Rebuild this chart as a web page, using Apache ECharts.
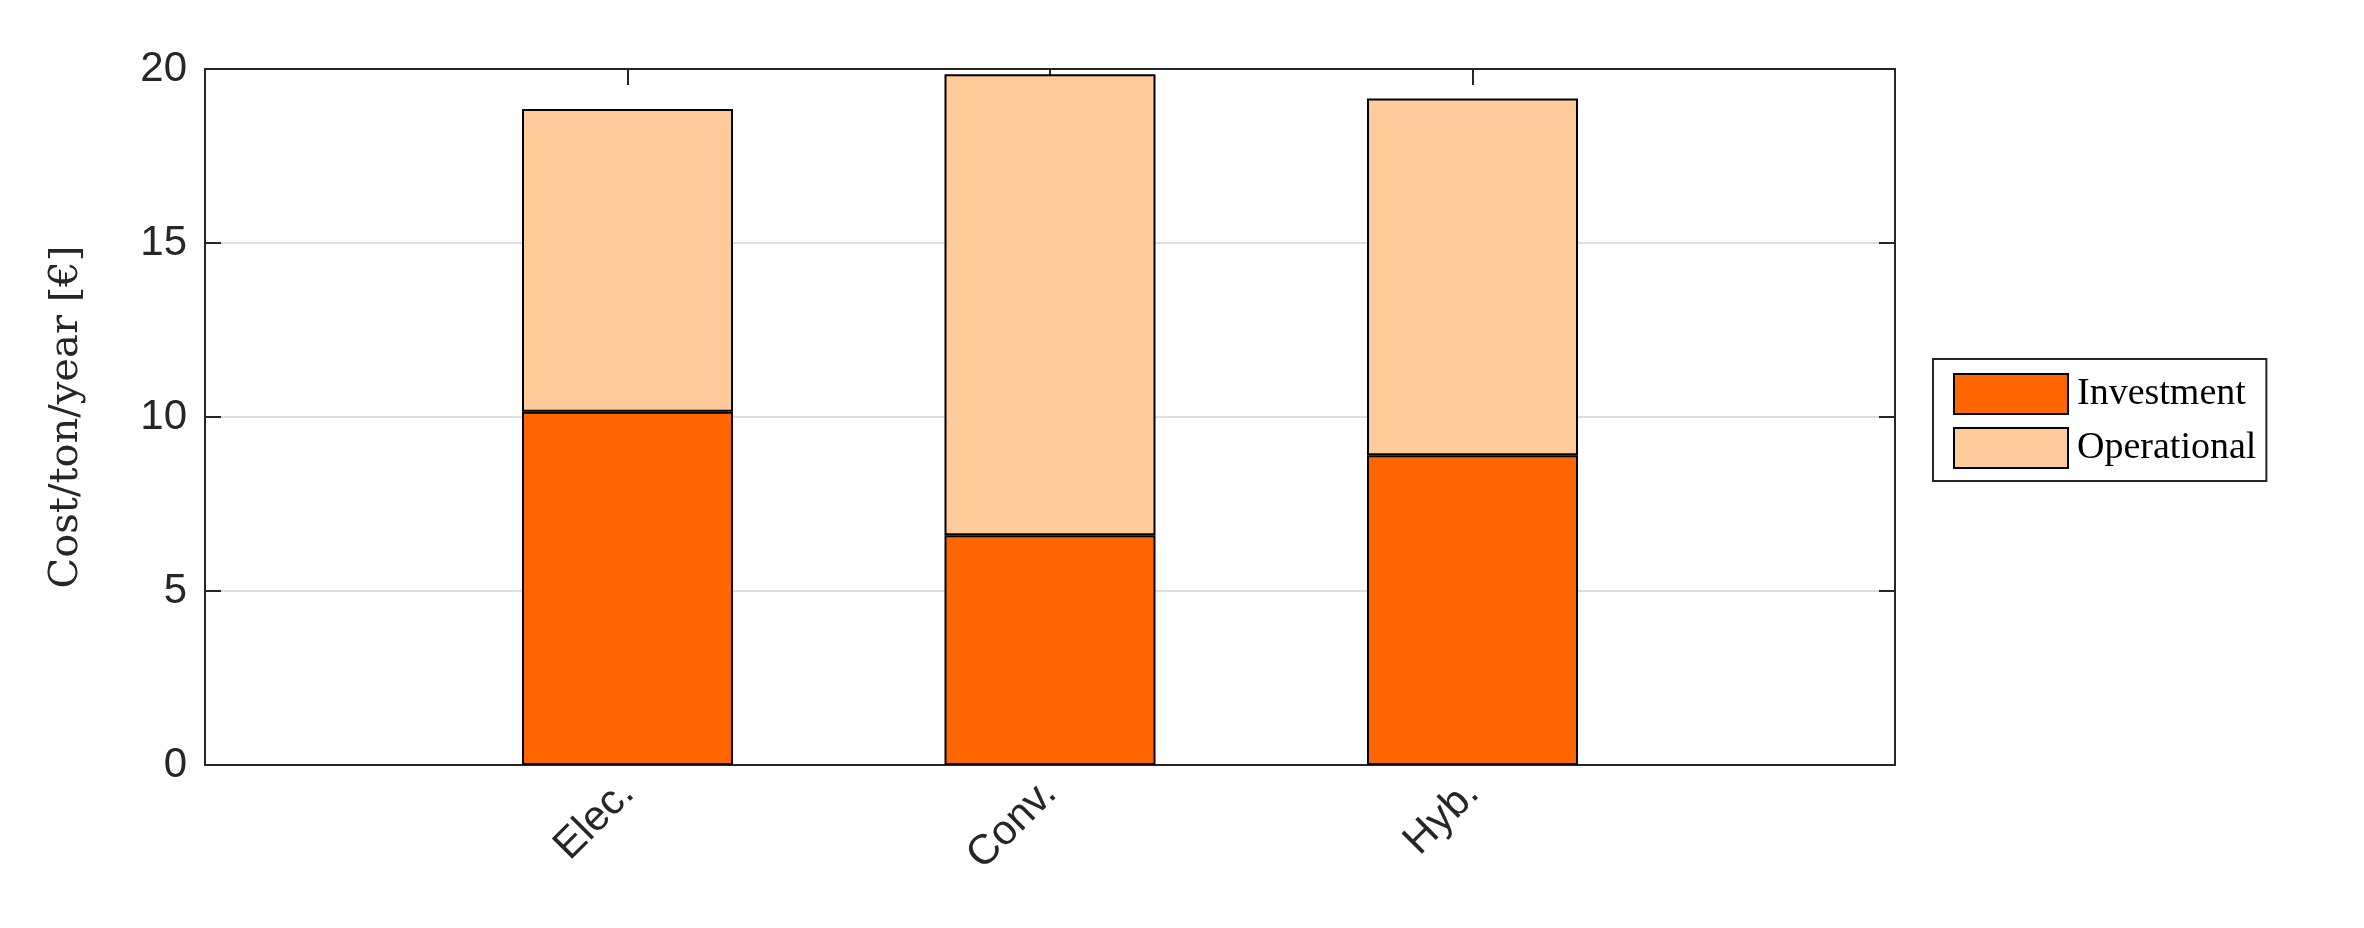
<!DOCTYPE html>
<html><head><meta charset="utf-8">
<script src="https://cdn.jsdelivr.net/npm/echarts@6/dist/echarts.min.js"></script>
<style>html,body{margin:0;background:#fff}#c{width:2364px;height:928px}</style>
</head><body><div id="c"></div>
<script>
const categories = ['', 'Elec.', 'Conv.', 'Hyb.', ''];
const investment = [null, 10.15, 6.6, 8.9, null];
const operational = [null, 8.7, 13.25, 10.25, null];
const yTicks = [0, 5, 10, 15, 20];

const chart = echarts.init(document.getElementById('c'));
const tickShow = (i, v) => v !== '';
const axisLine = {show: true, onZero: false, lineStyle: {color: '#262626', width: 2}};
chart.setOption({
  animation: false,
  grid: {left: 205, right: 2364 - 1895, top: 69, bottom: 928 - 765, containLabel: false},
  legend: {
    orient: 'vertical', left: 1933, top: 359, width: 390, height: 121,
    padding: [14, 10, 12, 20], itemGap: 12, itemWidth: 114, itemHeight: 40,
    icon: 'rect',
    borderColor: '#262626', borderWidth: 2, backgroundColor: '#fff',
    textStyle: {fontFamily: 'Liberation Serif', fontSize: 38, color: '#000', padding: [0, 0, 0, 4]},
    data: ['Investment', 'Operational']
  },
  xAxis: [{
    type: 'category', data: categories, boundaryGap: false,
    axisLine, axisTick: {show: false},
    axisLabel: {rotate: 45, fontSize: 42, fontFamily: 'Liberation Sans', color: '#262626', margin: 22, interval: 0},
    splitLine: {show: false}
  }, {
    type: 'category', data: categories, boundaryGap: false, position: 'top',
    axisLine, axisTick: {show: true, inside: true, length: 16, interval: tickShow, lineStyle: {color: '#262626', width: 2}},
    axisLabel: {show: false}
  }],
  yAxis: [{
    type: 'value', min: 0, max: 20, interval: 5,
    axisLine, axisTick: {show: true, inside: true, length: 16, lineStyle: {color: '#262626', width: 2}},
    axisLabel: {fontSize: 42, fontFamily: 'Liberation Sans', color: '#262626', margin: 18,
      formatter: v => yTicks.includes(v) ? String(v) : ''},
    splitLine: {show: true, lineStyle: {color: '#dedede', width: 2}},
    name: 'Cost/ton/year [€]', nameLocation: 'middle', nameGap: 118,
    nameTextStyle: {fontFamily: 'DejaVu Serif', fontSize: 40, color: '#262626'}
  }, {
    type: 'value', min: 0, max: 20, interval: 5, position: 'right',
    axisLine, axisTick: {show: true, inside: true, length: 16, lineStyle: {color: '#262626', width: 2}},
    axisLabel: {show: false}, splitLine: {show: false}
  }],
  series: [{
    name: 'Investment', type: 'bar', stack: 's', data: investment, barWidth: 211,
    itemStyle: {color: '#ff6600', borderColor: '#000', borderWidth: 2}
  }, {
    name: 'Operational', type: 'bar', stack: 's', data: operational, barWidth: 211,
    itemStyle: {color: '#ffcb9a', borderColor: '#000', borderWidth: 2}
  }]
});
</script></body></html>
